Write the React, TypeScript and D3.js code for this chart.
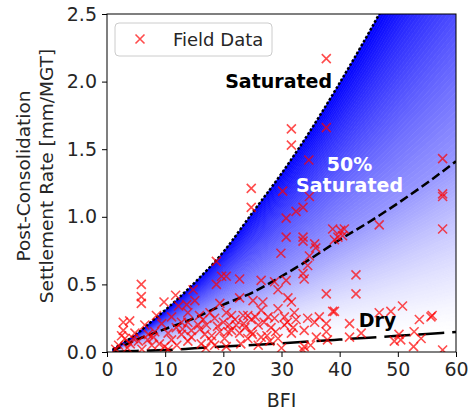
import React, { useEffect, useRef } from 'react';
import * as d3 from 'd3';

// model curves at these BFI values
const bfiGrid = [1, 2.5, 5, 7.5, 10, 15, 20, 25, 30, 35, 40, 45, 50, 55, 60];
const saturatedRate = [0.02, 0.06, 0.13, 0.22, 0.31, 0.51, 0.74, 1.03, 1.32, 1.64, 1.99, 2.36, 2.75, 3.13, 3.52];
const halfSatRate = [0.01, 0.04, 0.09, 0.13, 0.17, 0.25, 0.35, 0.44, 0.56, 0.69, 0.83, 0.96, 1.1, 1.25, 1.41];
const dryRate = [0, 0.003, 0.008, 0.012, 0.015, 0.027, 0.04, 0.052, 0.065, 0.078, 0.092, 0.106, 0.12, 0.134, 0.148];

// field data [BFI, rate]
const fieldData: [number, number][] = [
  [37.7, 2.17], [31.7, 1.65], [31.7, 1.53], [37.7, 1.66], [34.7, 1.42], [57.7, 1.43],
  [24.8, 1.21], [24.8, 1.07], [57.7, 1.17], [57.7, 1.15], [57.7, 0.91], [46.8, 0.94],
  [30.2, 1.19], [34.8, 1.15], [33.7, 1.07], [32.5, 1.04], [30.8, 0.99], [30.8, 0.85],
  [33.7, 0.85], [38.8, 0.91], [40.8, 0.91], [39.7, 0.85],
  [33.7, 0.82], [35.7, 0.8], [35.9, 0.77], [29.9, 0.73], [34.8, 0.71], [34.5, 0.64],
  [33.9, 0.54], [33.7, 0.58], [40.2, 0.9], [39.1, 0.83], [40.5, 0.86],
  [18.8, 0.67], [19.7, 0.56], [20.5, 0.56], [18.8, 0.5], [22.8, 0.54], [26.5, 0.53],
  [28.8, 0.52], [29.4, 0.46], [30.8, 0.53], [31.1, 0.4], [31.7, 0.37], [37.7, 0.43],
  [38.8, 0.3], [5.9, 0.5], [5.9, 0.41], [5.9, 0.36], [9.8, 0.37], [11.8, 0.42],
  [14.8, 0.46], [15.1, 0.38], [13.7, 0.35], [2.8, 0.22], [3.9, 0.23], [2.8, 0.16],
  [3.1, 0.1], [5.4, 0.08], [9.4, 0.21], [11.1, 0.26], [12.3, 0.34], [12.8, 0.22],
  [13.9, 0.29], [15.9, 0.27], [17.1, 0.2], [18.5, 0.25], [19.4, 0.36], [19.4, 0.15],
  [20.2, 0.1], [21.4, 0.27], [22.8, 0.4], [23.4, 0.27], [24.2, 0.27], [25.1, 0.38],
  [26.8, 0.37], [26.5, 0.31], [23.7, 0.18], [22.8, 0.14], [24.8, 0.15], [26.0, 0.2],
  [27.7, 0.26], [28.8, 0.25], [28.2, 0.18], [30.5, 0.2], [32.5, 0.24], [34.5, 0.25],
  [35.7, 0.22], [37.7, 0.21], [37.7, 0.15], [37.9, 0.09], [33.9, 0.16], [33.9, 0.04],
  [31.7, 0.14], [29.4, 0.1], [26.5, 0.11], [24.2, 0.1], [20.5, 0.04], [16.2, 0.06],
  [13.9, 0.08], [11.1, 0.09], [8.2, 0.15], [7.1, 0.13], [4.8, 0.14], [7.7, 0.05],
  [9.9, 0.04], [12.8, 0.13], [14.5, 0.16], [16.8, 0.13], [17.9, 0.08], [20.8, 0.15],
  [22.2, 0.2], [11.9, 0.18], [10.5, 0.14], [6.5, 0.2], [13.9, 0.22], [15.7, 0.2],
  [17.7, 0.29], [29.4, 0.32], [32.2, 0.29], [24.8, 0.24], [21.4, 0.16],
  [57.7, 0.015], [52.7, 0.04], [49.4, 0.08], [50.5, 0.09], [50.2, 0.13], [52.8, 0.15],
  [54.0, 0.1], [53.7, 0.24], [55.7, 0.26], [55.9, 0.27], [46.8, 0.29], [48.8, 0.3],
  [50.8, 0.34], [39.1, 0.3], [41.7, 0.21], [41.7, 0.11], [43.7, 0.14], [42.8, 0.57],
  [42.8, 0.43], [33.7, 0.015], [30.0, 0.03],
  [1.5, 0.02], [2.0, 0.05], [3.5, 0.03], [4.0, 0.06], [6.0, 0.02], [7.0, 0.09],
  [8.0, 0.11], [9.0, 0.06], [10.5, 0.02], [12.0, 0.05], [13.0, 0.17], [14.5, 0.11],
  [16.0, 0.17], [17.0, 0.03], [18.5, 0.05], [2.5, 0.12], [4.5, 0.1], [8.5, 0.27],
  [20.0, 0.22], [23.0, 0.06], [26.0, 0.05], [28.0, 0.08], [36.0, 0.11], [35.0, 0.05],
  [21.0, 0.2], [22.0, 0.24], [23.5, 0.21], [25.5, 0.26], [27.0, 0.22], [29.0, 0.15],
  [30.5, 0.26], [31.0, 0.22], [19.0, 0.19], [20.5, 0.29], [16.5, 0.24], [18.0, 0.12],
  [25.0, 0.13], [27.5, 0.12], [32.0, 0.18], [36.5, 0.26],
];

const xTicks = [0, 10, 20, 30, 40, 50, 60];
const yTicks = [0, 0.5, 1.0, 1.5, 2.0, 2.5];

const App = () => {
  const svgRef = useRef<SVGSVGElement>(null);

  useEffect(() => {
    const root = d3.select(svgRef.current);
    root.selectAll('*').remove();

    const margin = { top: 14, left: 107 };
    const width = 349;
    const height = 338;
    const font = 'DejaVu Sans, sans-serif';

    const x = d3.scaleLinear().domain([0, 60]).range([0, width]);
    const y = d3.scaleLinear().domain([0, 2.5]).range([height, 0]);

    const g = root.append('g').attr('transform', `translate(${margin.left},${margin.top})`);

    root.append('defs').append('clipPath').attr('id', 'plot-clip')
      .append('rect').attr('width', width).attr('height', height);

    const plot = g.append('g').attr('clip-path', 'url(#plot-clip)');

    // saturation family: 0 = dry, 0.5 = 50%, 1 = saturated
    const level = (i: number, t: number) => t <= 0.5
      ? dryRate[i] + (halfSatRate[i] - dryRate[i]) * (t / 0.5)
      : halfSatRate[i] + (saturatedRate[i] - halfSatRate[i]) * ((t - 0.5) / 0.5);

    const nBands = 90;
    const blue = d3.interpolateRgb('#ffffff', '#0000ff');
    for (let b = 0; b < nBands; b++) {
      const t0 = b / nBands;
      const t1 = (b + 1) / nBands;
      const col = blue(Math.pow((t0 + t1) / 2, 1.3));
      const area = d3.area<number>()
        .x(i => x(bfiGrid[i]))
        .y0(i => y(level(i, t0)))
        .y1(i => y(level(i, t1)))
        .curve(d3.curveMonotoneX);
      plot.append('path')
        .attr('d', area(d3.range(bfiGrid.length)))
        .attr('fill', col)
        .attr('stroke', col)
        .attr('stroke-width', 0.6);
    }

    const line = (vals: number[]) => d3.line<number>()
      .x(i => x(bfiGrid[i]))
      .y(i => y(vals[i]))
      .curve(d3.curveMonotoneX)(d3.range(bfiGrid.length));

    plot.append('path').attr('d', line(saturatedRate)).attr('fill', 'none')
      .attr('stroke', '#000').attr('stroke-width', 2.5).attr('stroke-dasharray', '2.5 2');
    plot.append('path').attr('d', line(halfSatRate)).attr('fill', 'none')
      .attr('stroke', '#000').attr('stroke-width', 2.5).attr('stroke-dasharray', '9 4');
    plot.append('path').attr('d', line(dryRate)).attr('fill', 'none')
      .attr('stroke', '#000').attr('stroke-width', 2.5).attr('stroke-dasharray', '26 8');

    const cross = 'M-4.5,-4.5L4.5,4.5M-4.5,4.5L4.5,-4.5';
    plot.selectAll('path.pt')
      .data(fieldData)
      .enter()
      .append('path')
      .attr('class', 'pt')
      .attr('d', cross)
      .attr('transform', d => `translate(${x(d[0])},${y(d[1])})`)
      .attr('stroke', '#ff0000')
      .attr('stroke-opacity', 0.7)
      .attr('stroke-width', 1.6)
      .attr('fill', 'none');

    // annotations
    const note = (tx: number, ty: number, txt: string, col: string) =>
      g.append('text').attr('x', tx).attr('y', ty).attr('text-anchor', 'middle')
        .attr('font-family', font).attr('font-weight', 'bold').attr('font-size', 19)
        .attr('fill', col).text(txt);
    note(x(29.5), y(1.95), 'Saturated', '#000');
    note(x(41.7), y(1.34), '50%', '#fff');
    note(x(41.7), y(1.18), 'Saturated', '#fff');
    note(x(46.5), y(0.185), 'Dry', '#000');

    // axes
    const xAxis = g.append('g').attr('transform', `translate(0,${height})`)
      .call(d3.axisBottom(x).tickValues(xTicks).tickFormat(d3.format('d')).tickSize(5).tickPadding(6));
    const yAxis = g.append('g')
      .call(d3.axisLeft(y).tickValues(yTicks).tickFormat(d3.format('.1f')).tickSize(5).tickPadding(5));
    [xAxis, yAxis].forEach(ax => {
      ax.select('.domain').remove();
      ax.selectAll('line').attr('stroke', '#000');
      ax.selectAll('text').attr('font-family', font).attr('font-size', 19).attr('fill', '#262626');
    });

    g.append('rect').attr('width', width).attr('height', height)
      .attr('fill', 'none').attr('stroke', '#000').attr('stroke-width', 1);

    // axis titles
    g.append('text').attr('x', width / 2).attr('y', height + 55).attr('text-anchor', 'middle')
      .attr('font-family', font).attr('font-size', 19).attr('fill', '#262626').text('BFI');
    const yTitle = g.append('text').attr('transform', `translate(-54,${height / 2 - 7}) rotate(-90)`)
      .attr('text-anchor', 'middle').attr('font-family', font).attr('font-size', 18.5).attr('fill', '#262626');
    yTitle.append('tspan').attr('x', 0).attr('dy', -23).text('Post-Consolidation');
    yTitle.append('tspan').attr('x', 0).attr('dy', 23).text('Settlement Rate [mm/MGT]');

    // legend
    const legend = g.append('g').attr('transform', 'translate(8,9)');
    legend.append('rect').attr('width', 157).attr('height', 33).attr('rx', 4)
      .attr('fill', '#fff').attr('fill-opacity', 0.8).attr('stroke', '#cccccc');
    legend.append('path').attr('d', cross).attr('transform', 'translate(25,16)')
      .attr('stroke', '#ff0000').attr('stroke-opacity', 0.7).attr('stroke-width', 1.6);
    legend.append('text').attr('x', 58).attr('y', 23).attr('font-family', font)
      .attr('font-size', 18).attr('fill', '#262626').text('Field Data');
  }, []);

  return (
    <svg ref={svgRef} width={470} height={410}
      style={{ position: 'absolute', top: 0, left: 0, background: '#fff' }} />
  );
};

export default App;
